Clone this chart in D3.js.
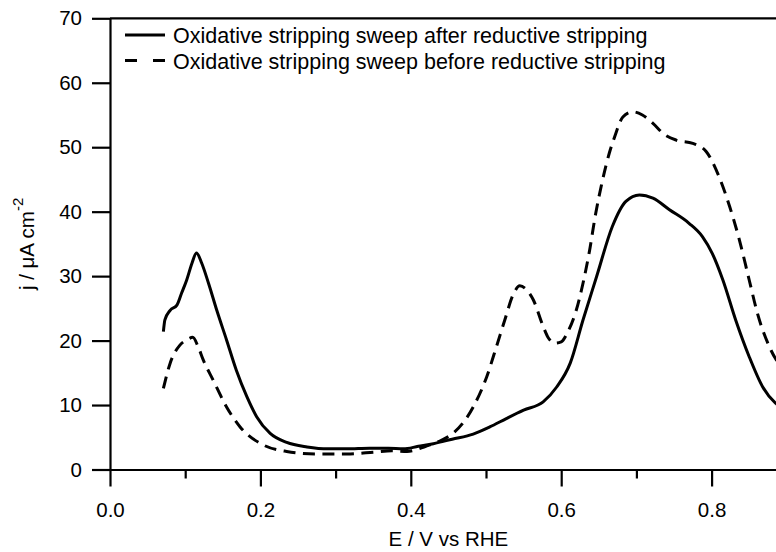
<!DOCTYPE html>
<html>
<head>
<meta charset="utf-8">
<script src="https://cdn.jsdelivr.net/npm/d3@7"></script>
<style>
  body { margin: 0; background: #fff; }
  svg { display: block; font-family: "Liberation Sans", Arial, sans-serif; }
  .axis path, .axis line { stroke: #000; stroke-width: 2.2; }
  .axis text { font-size: 20.5px; fill: #000; font-family: "Liberation Sans", Arial, sans-serif; }
  .labeltext { font-size: 20.5px; fill: #000; }
  .legendtext { font-size: 21.5px; fill: #000; }
</style>
</head>
<body>
<script>
// oxidative stripping sweep after reductive stripping (solid)
var afterE = [0.071, 0.073, 0.080, 0.089, 0.095, 0.102, 0.109, 0.115, 0.122, 0.131,
              0.142, 0.155, 0.168, 0.182, 0.195, 0.213, 0.235, 0.262, 0.290, 0.315,
              0.345, 0.370, 0.390, 0.410, 0.430, 0.455, 0.483, 0.505, 0.527, 0.550,
              0.576, 0.594, 0.612, 0.629, 0.647, 0.668, 0.686, 0.704, 0.722, 0.744,
              0.770, 0.788, 0.801, 0.815, 0.832, 0.850, 0.868, 0.885, 0.895];
var afterJ = [21.4, 23.2, 24.7, 25.5, 27.3, 29.4, 32.0, 33.6, 32.0, 28.9,
              24.7, 20.1, 15.4, 11.3, 8.2, 5.6, 4.2, 3.5, 3.2, 3.2,
              3.3, 3.3, 3.2, 3.6, 4.0, 4.7, 5.5, 6.6, 7.9, 9.2,
              10.5, 12.8, 16.5, 23.2, 29.9, 37.7, 41.6, 42.6, 42.1, 40.3,
              38.2, 36.1, 33.5, 29.4, 23.2, 17.5, 12.8, 10.3, 9.5];

// oxidative stripping sweep before reductive stripping (dashed)
var beforeE = [0.071, 0.080, 0.093, 0.102, 0.110, 0.117, 0.124, 0.137, 0.155, 0.173,
               0.204, 0.235, 0.275, 0.315, 0.352, 0.375, 0.395, 0.420, 0.440, 0.456,
               0.483, 0.501, 0.514, 0.525, 0.536, 0.545, 0.553, 0.563, 0.576, 0.583,
               0.592, 0.600, 0.609, 0.620, 0.629, 0.637, 0.646, 0.655, 0.664, 0.671,
               0.682, 0.695, 0.708, 0.722, 0.737, 0.753, 0.775, 0.793, 0.810, 0.824,
               0.837, 0.850, 0.861, 0.879, 0.895];
var beforeJ = [12.6, 16.5, 19.3, 20.1, 20.5, 19.1, 17.0, 13.9, 9.7, 6.6,
               3.8, 2.8, 2.4, 2.4, 2.7, 2.9, 2.8, 3.6, 4.5, 5.6,
               9.7, 14.4, 19.1, 23.2, 27.1, 28.5, 28.0, 26.3, 22.2, 20.4,
               19.6, 19.8, 21.4, 24.7, 28.9, 33.5, 39.8, 44.9, 49.1, 51.6,
               54.7, 55.5, 55.0, 53.7, 52.0, 51.1, 50.6, 49.3, 45.4, 40.8,
               35.6, 29.4, 24.2, 18.5, 15.5];

var xMajor = [0.0, 0.2, 0.4, 0.6, 0.8];
var xMinor = [0.1, 0.3, 0.5, 0.7];
var yTicks = [0, 10, 20, 30, 40, 50, 60, 70];
var legendLabels = ["Oxidative stripping sweep after reductive stripping",
                    "Oxidative stripping sweep before reductive stripping"];

// set the dimensions and margins of the graph
var margin = {top: 18.3, left: 110},
    width = 0.9 * 752,
    height = 451.2;

var svg = d3.select("body").append("svg")
    .attr("width", 776)
    .attr("height", 552);

var g = svg.append("g")
    .attr("transform", "translate(" + margin.left + "," + margin.top + ")");

var x = d3.scaleLinear().domain([0, 0.9]).range([0, width]);
var y = d3.scaleLinear().domain([0, 70]).range([height, 0]);

// frame on top
g.append("line")
    .attr("x1", 0).attr("x2", width)
    .attr("y1", 0).attr("y2", 0)
    .attr("stroke", "#000").attr("stroke-width", 2.2);

// X axis, major and minor ticks
g.append("g")
    .attr("class", "axis")
    .attr("transform", "translate(0," + height + ")")
    .call(d3.axisBottom(x).tickValues(xMinor).tickSize(9).tickSizeOuter(0).tickFormat(""));
g.append("g")
    .attr("class", "axis")
    .attr("transform", "translate(0," + height + ")")
    .call(d3.axisBottom(x).tickValues(xMajor).tickSize(17).tickSizeOuter(0)
          .tickPadding(15.6).tickFormat(d3.format(".1f")));

// Y axis
g.append("g")
    .attr("class", "axis")
    .call(d3.axisLeft(y).tickValues(yTicks).tickSize(18).tickSizeOuter(0).tickPadding(10));

// text label for the x axis
g.append("text")
    .attr("x", width / 2)
    .attr("y", 546 - margin.top)
    .style("text-anchor", "middle")
    .attr("class", "labeltext")
    .text("E / V vs RHE");

// text label for the y axis
var ylab = svg.append("text")
    .attr("transform", "translate(33.5," + (margin.top + height / 2) + ") rotate(-90)")
    .style("text-anchor", "middle")
    .attr("class", "labeltext");
ylab.append("tspan").text("j / \u03bcA cm");
ylab.append("tspan").attr("dy", -11).style("font-size", "15px").text("-2");

// the curves
var line = d3.line()
    .x(function(d) { return x(d[0]); })
    .y(function(d) { return y(d[1]); })
    .curve(d3.curveMonotoneX);

g.append("path")
    .datum(d3.zip(beforeE, beforeJ))
    .attr("fill", "none")
    .attr("stroke", "#000")
    .attr("stroke-width", 3)
    .attr("stroke-dasharray", "12,7.5")
    .attr("d", line);

g.append("path")
    .datum(d3.zip(afterE, afterJ))
    .attr("fill", "none")
    .attr("stroke", "#000")
    .attr("stroke-width", 3)
    .attr("stroke-linejoin", "round")
    .attr("d", line);

// legend
var legendY = [35, 60.5];
var legendDash = [null, "12,16"];
legendLabels.forEach(function(lab, i) {
  svg.append("line")
      .attr("x1", 125).attr("x2", 165)
      .attr("y1", legendY[i]).attr("y2", legendY[i])
      .attr("stroke", "#000").attr("stroke-width", 3)
      .attr("stroke-dasharray", legendDash[i]);
  svg.append("text")
      .attr("x", 173)
      .attr("y", legendY[i] + 8)
      .attr("class", "legendtext")
      .text(lab);
});
</script>
</body>
</html>
